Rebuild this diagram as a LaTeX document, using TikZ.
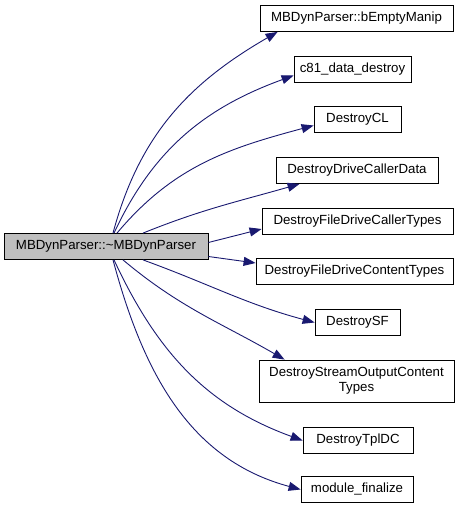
\documentclass[tikz,border=0pt]{standalone}
\usepackage{fontspec}
\setmainfont{Liberation Sans}
\usetikzlibrary{arrows.meta}
\definecolor{edgeblue}{RGB}{25,25,112}
\definecolor{maingray}{RGB}{191,191,191}

\begin{document}
\begin{tikzpicture}[x=1bp,y=1bp,
  fn/.style={draw=black,line width=0.8bp,inner sep=2bp,minimum height=26bp,font=\fontsize{13.3}{15.5}\selectfont},
  call/.style={draw=edgeblue,line width=0.9bp,-{Triangle[length=12bp,width=9bp,fill=edgeblue]}}]
\useasboundingbox (0,0) rectangle (464,-509);
\node[fn,fill=maingray,minimum width=204bp] (main) at (106,-246.5) {MBDynParser::\textasciitilde MBDynParser};
\node[fn,minimum width=193bp] (bEmptyManip) at (356.5,-18.5) {MBDynParser::bEmptyManip};
\node[fn,minimum width=117bp] (c81) at (352.5,-69.5) {c81\_data\_destroy};
\node[fn,minimum width=87bp] (CL) at (357.5,-119.5) {DestroyCL};
\node[fn,minimum width=162bp] (DriveCaller) at (357,-170.5) {DestroyDriveCallerData};
\node[fn,minimum width=191bp] (FileCaller) at (357.5,-221) {DestroyFileDriveCallerTypes};
\node[fn,minimum width=197bp] (FileContent) at (354.5,-271) {DestroyFileDriveContentTypes};
\node[fn,minimum width=85bp] (SF) at (357.5,-322.5) {DestroySF};
\node[fn,minimum width=195bp,minimum height=42bp,align=center] (StreamOut) at (356.5,-381) {DestroyStreamOutputContent\\Types};
\node[fn,minimum width=110bp] (TplDC) at (358,-440.5) {DestroyTplDC};
\node[fn,minimum width=112bp] (finalize) at (357,-489.5) {module\_finalize};
\draw[call] ([xshift=7bp]main.north) to[out=75,in=210] ([xshift=18bp]bEmptyManip.south west);
\draw[call] ([xshift=8bp]main.north) to[out=65,in=200] ([yshift=-6bp]c81.west);
\draw[call] ([xshift=11bp]main.north) to[out=50,in=195] ([yshift=-6bp]CL.west);
\draw[call] ([xshift=37bp]main.north) to[out=22,in=196] ([xshift=24bp]DriveCaller.south west);
\draw[call] ([yshift=4bp]main.east) -- ([yshift=-8bp]FileCaller.west);
\draw[call] ([yshift=-10bp]main.east) -- ([yshift=8bp]FileContent.west);
\draw[call] ([xshift=37bp]main.south) to[out=-20,in=165] (SF.west);
\draw[call] ([xshift=17bp]main.south) to[out=-40,in=150] ([xshift=26bp]StreamOut.north west);
\draw[call] ([xshift=8bp]main.south) to[out=-65,in=160] (TplDC.west);
\draw[call] ([xshift=7bp]main.south) to[out=-75,in=165] (finalize.west);
\end{tikzpicture}
\end{document}
